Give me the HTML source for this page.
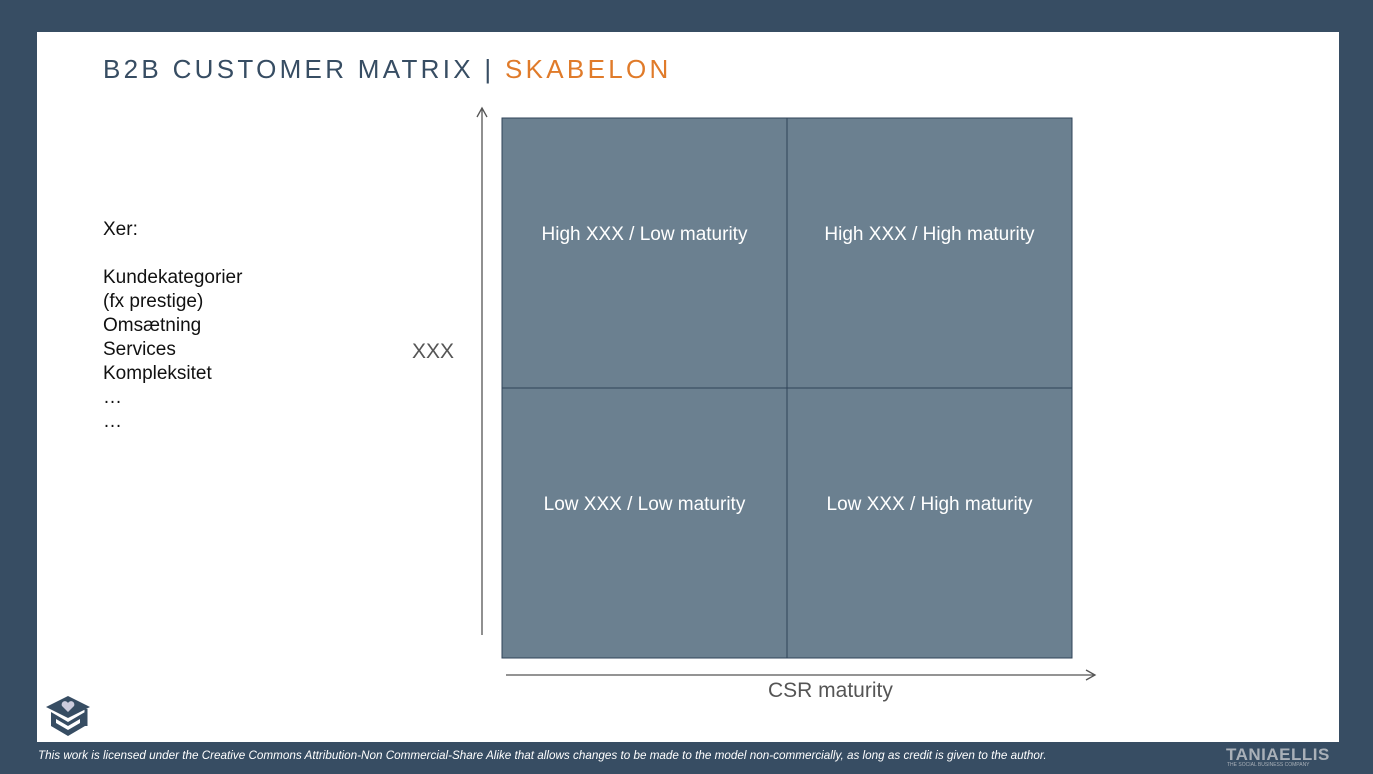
<!DOCTYPE html>
<html><head><meta charset="utf-8"><style>
body{margin:0;width:1373px;height:774px;background:#374d63;position:relative;overflow:hidden;font-family:"Liberation Sans",sans-serif}
#panel{position:absolute;left:37px;top:32px;width:1302px;height:710px;background:#fff}
.t{position:absolute;white-space:nowrap}
</style></head><body>
<div id="panel"></div>
<div class="t" style="left:103px;top:54px;font-size:26px;letter-spacing:3.3px;color:#374d63">B2B CUSTOMER MATRIX | <span style="color:#e07b2a">SKABELON</span></div>
<div class="t" style="left:103px;top:218px;font-size:19px;line-height:24px;color:#111">Xer:<br><br>Kundekategorier<br>(fx prestige)<br>Omsætning<br>Services<br>Kompleksitet<br>…<br>…</div>
<div class="t" style="left:412px;top:340px;font-size:21px;color:#555">XXX</div>
<div class="t" style="left:768px;top:679px;font-size:21px;color:#555">CSR maturity</div>
<svg id="mx" width="1373" height="774" style="position:absolute;left:0;top:0">
<line x1="482" y1="635" x2="482" y2="108" stroke="#555" stroke-width="1.3"/>
<polyline points="477,117 482,108 487,117" fill="none" stroke="#555" stroke-width="1.3"/>
<line x1="506" y1="675" x2="1095" y2="675" stroke="#555" stroke-width="1.3"/>
<polyline points="1086,670 1095,675 1086,680" fill="none" stroke="#555" stroke-width="1.3"/>
</svg>
<svg width="50" height="44" style="position:absolute;left:45px;top:694px" viewBox="0 0 50 44">
<polygon points="1,13 23,2 45,13 23,24" fill="#374d63"/>
<path d="M6,18 V32 L23,42 L40,32 V18 L23,28 Z" fill="#374d63"/>
<path d="M11,25 L23,32 L35,25 V29 L23,36 L11,29 Z" fill="#fff"/>
<line x1="41" y1="15" x2="41" y2="32" stroke="#374d63" stroke-width="3"/>
<path d="M23,18 L17,12 A3,3 0 0 1 23,9 A3,3 0 0 1 29,12 Z" fill="#ccd"/>
</svg>
<div class="t" style="left:38px;top:749px;font-size:11.7px;font-style:italic;color:#fff">This work is licensed under the Creative Commons Attribution-Non Commercial-Share Alike that allows changes to be made to the model non-commercially, as long as credit is given to the author.</div>
<div class="t" style="left:1226px;top:745px;font-size:17px;font-weight:bold;color:#a9b0b8;letter-spacing:0.5px">TANIAELLIS</div>
<div class="t" style="left:1227px;top:762px;font-size:5px;color:#a9b0b8">THE SOCIAL BUSINESS COMPANY</div>
<script>
const cols=["Low maturity","High maturity"];
const rows=["High XXX","Low XXX"];
const svg=document.getElementById('mx');
const NS="http://www.w3.org/2000/svg";
const x0=502,y0=118,cw=285,ch=270;
rows.forEach((r,ri)=>{cols.forEach((c,ci)=>{
 const rect=document.createElementNS(NS,'rect');
 rect.setAttribute('x',x0+ci*cw);rect.setAttribute('y',y0+ri*ch);
 rect.setAttribute('width',cw);rect.setAttribute('height',ch);
 rect.setAttribute('fill','#6b8090');rect.setAttribute('stroke','#2f4358');rect.setAttribute('stroke-width','1');
 
 
 svg.appendChild(rect);
 const t=document.createElementNS(NS,'text');
 t.setAttribute('x',x0+ci*cw+cw/2);t.setAttribute('y',y0+ri*ch+122);
 t.setAttribute('text-anchor','middle');t.setAttribute('fill','#fff');
 t.setAttribute('font-size','19');t.setAttribute('font-family','Liberation Sans, sans-serif');
 t.textContent=r+" / "+c;
 
 
 svg.appendChild(t);
});});
</script>
</body></html>
